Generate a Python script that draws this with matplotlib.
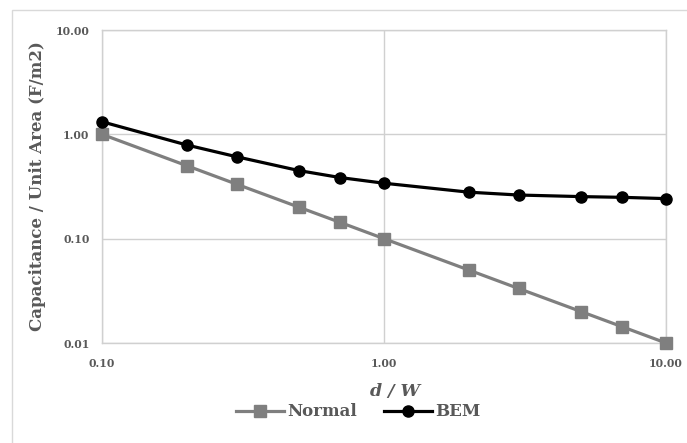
import matplotlib
matplotlib.use("Agg")
import matplotlib.pyplot as plt
from matplotlib.patches import Rectangle
from matplotlib.ticker import FixedLocator, FixedFormatter, NullLocator

x_vals = [0.1, 0.2, 0.3, 0.5, 0.7, 1.0, 2.0, 3.0, 5.0, 7.0, 10.0]
normal = [1.0, 0.5, 0.333, 0.2, 0.143, 0.1, 0.05, 0.0333, 0.02, 0.0143, 0.01]
bem = [1.32, 0.79, 0.61, 0.449, 0.385, 0.34, 0.279, 0.262, 0.253, 0.249, 0.242]
x_ticks = [0.1, 1.0, 10.0]
x_tick_labels = ["0.10", "1.00", "10.00"]
y_ticks = [0.01, 0.1, 1.0, 10.0]
y_tick_labels = ["0.01", "0.10", "1.00", "10.00"]

W, H = 687, 443
fig = plt.figure(figsize=(W / 100, H / 100), dpi=100)
font = "DejaVu Serif"
plt.rcParams['font.family'] = [font]

# outer chart border
fig.patches.append(Rectangle((12 / W, -0.1), 1.2, (H - 9.5) / H + 0.1,
                             transform=fig.transFigure, fill=False,
                             edgecolor="#d9d9d9", linewidth=1.0))

ax = fig.add_axes([102 / W, (H - 343) / H, (666 - 102) / W, (343 - 30) / H])
ax.set_xscale("log")
ax.set_yscale("log")
ax.set_xlim(0.1, 10)
ax.set_ylim(0.01, 10)

ax.plot(x_vals, normal, color="#7f7f7f", linewidth=2.3, marker="s",
        markersize=8.5, label="Normal", zorder=3, clip_on=False)
ax.plot(x_vals, bem, color="#000000", linewidth=2.3, marker="o",
        markersize=8, label="BEM", zorder=4, clip_on=False)

ax.xaxis.set_major_locator(FixedLocator(x_ticks))
ax.xaxis.set_major_formatter(FixedFormatter(x_tick_labels))
ax.yaxis.set_major_locator(FixedLocator(y_ticks))
ax.yaxis.set_major_formatter(FixedFormatter(y_tick_labels))
ax.xaxis.set_minor_locator(NullLocator())
ax.yaxis.set_minor_locator(NullLocator())
ax.grid(True, which="major", color="#d0d0d0", linewidth=1.0)
ax.set_axisbelow(True)
for s in ax.spines.values():
    s.set_color("#d0d0d0")
    s.set_linewidth(1.0)
ax.tick_params(length=0, labelsize=7.8, labelcolor="#595959")
for lab in ax.get_xticklabels() + ax.get_yticklabels():
    lab.set_fontweight("bold")
ax.tick_params(axis="y", pad=9)
ax.tick_params(axis="x", pad=11)

ax.set_ylabel("Capacitance / Unit Area (F/m2)", fontsize=12, fontweight="bold",
              color="#595959", labelpad=7)
fig.text(395 / W, 1 - 392 / H, "d / W", ha="center", va="center",
         fontsize=12.5, fontweight="bold", style="italic", color="#595959")

leg = fig.legend(loc="center", bbox_to_anchor=(358 / W, 1 - 412 / H), ncol=2,
                 frameon=False, prop={"family": font, "weight": "bold", "size": 12},
                 handlelength=2.9, handletextpad=0.2, columnspacing=1.6)
for t in leg.get_texts():
    t.set_color("#595959")

fig.savefig("out.png", dpi=100)
